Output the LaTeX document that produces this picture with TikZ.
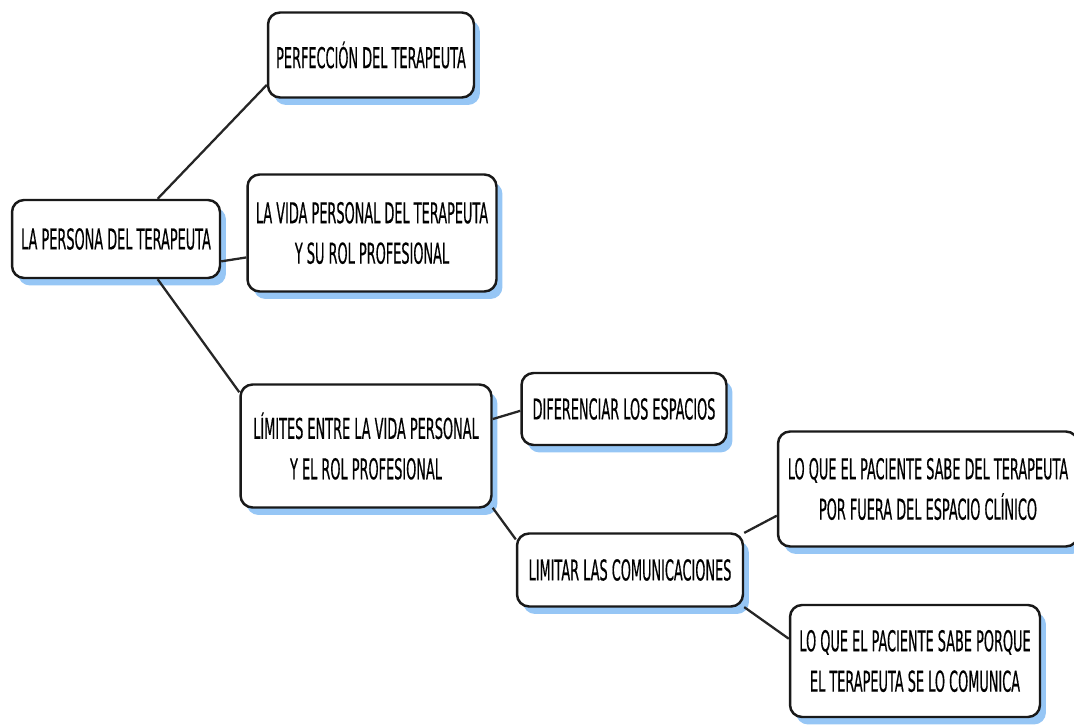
\documentclass[tikz,border=0pt]{standalone}
\usepackage{fontspec}
\setmainfont{DejaVu Sans}[FakeStretch=0.45,FakeBold=0.4]
\usetikzlibrary{shadows}
\definecolor{shadowblue}{RGB}{150,198,245}
\tikzset{
  topic/.style={draw=black!90, line width=1.4pt, fill=white, rounded corners=0.24cm,
    inner sep=0pt, align=center, font=\fontsize{16.3}{23}\selectfont,
    drop shadow={fill=shadowblue, opacity=1, shadow xshift=0.12cm, shadow yshift=-0.15cm}},
  link/.style={line width=1.3pt, draw=black!85}
}

\begin{document}
\begin{tikzpicture}[x=0.02cm,y=-0.02cm]
\useasboundingbox (0,0) rectangle (1074,726);
\node[topic, minimum width=4.16cm, minimum height=1.56cm] (root) at (116,239) {LA PERSONA DEL TERAPEUTA};
\node[topic, minimum width=4.12cm, minimum height=1.70cm] (perf) at (371,55) {PERFECCIÓN DEL TERAPEUTA};
\node[topic, minimum width=4.98cm, minimum height=2.34cm] (vida) at (372,233) {LA VIDA PERSONAL DEL TERAPEUTA\\Y SU ROL PROFESIONAL};
\node[topic, minimum width=5.02cm, minimum height=2.46cm] (limites) at (366,446) {LÍMITES ENTRE LA VIDA PERSONAL\\Y EL ROL PROFESIONAL};
\node[topic, minimum width=4.10cm, minimum height=1.44cm] (dif) at (624,409) {DIFERENCIAR LOS ESPACIOS};
\node[topic, minimum width=4.52cm, minimum height=1.46cm] (limitar) at (630,570) {LIMITAR LAS COMUNICACIONES};
\node[topic, minimum width=6.00cm, minimum height=2.30cm] (fuera) at (928,489) {LO QUE EL PACIENTE SABE DEL TERAPEUTA\\POR FUERA DEL ESPACIO CLÍNICO};
\node[topic, minimum width=5.00cm, minimum height=2.24cm] (comunica) at (915,661) {LO QUE EL PACIENTE SABE PORQUE\\EL TERAPEUTA SE LO COMUNICA};

%\path[link] (root) edge (perf);
\path[link] (root.44) edge (perf.196);
\path[link] (root.-12) edge (vida.191);
\path[link] (root.-44) edge (limites.157);
\path[link] (limites.12) edge (dif.181);
\path[link] (limites.-26) edge (limitar.165);
\path[link] (limitar.18) edge (fuera.190);
\path[link] (limitar.-18) edge (comunica.170);
\end{tikzpicture}
\end{document}
